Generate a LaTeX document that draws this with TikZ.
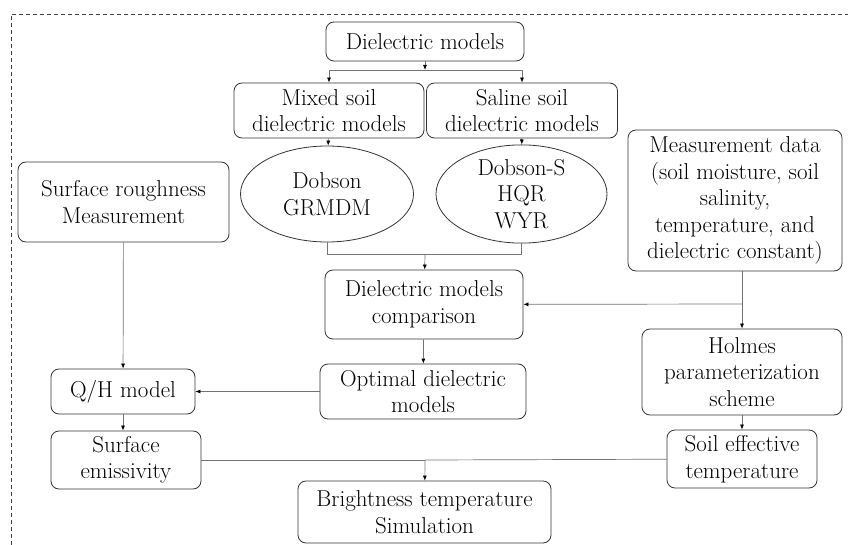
\documentclass[tikz,border=0pt]{standalone}
\usetikzlibrary{arrows.meta,shapes.geometric}
\begin{document}
\begin{tikzpicture}[x=1pt,y=-1pt,
  box/.style={draw=black!80,line width=0.8pt,rounded corners=8pt,align=center,inner sep=0pt,
    font=\fontsize{23}{26.5}\selectfont},
  ell/.style={ellipse,draw=black!80,line width=0.8pt,align=center,inner sep=0pt,
    font=\fontsize{23}{26.5}\selectfont},
  conn/.style={draw=black!55,line width=0.7pt},
  arr/.style={conn,-{Latex[length=5pt,width=4pt,color=black]}}]
\useasboundingbox (0,0) rectangle (848,545);
\draw[black!75,line width=0.7pt,dash pattern=on 4pt off 3pt] (11,545) -- (11,14) -- (848,14);

\node[box,minimum width=198,minimum height=39] (dm) at (425,41.5) {Dielectric models};
\node[box,minimum width=190,minimum height=55] (mixed) at (329,110.5) {Mixed soil\\dielectric models};
\node[box,minimum width=191,minimum height=55] (saline) at (522,110.5) {Saline soil\\dielectric models};
\node[ell,minimum width=173,minimum height=96] (e1) at (327,194) {Dobson\\GRMDM};
\node[ell,minimum width=171,minimum height=95] (e2) at (521.5,194) {Dobson-S\\HQR\\WYR};
\node[box,minimum width=211,minimum height=80] (rough) at (123.5,202) {Surface roughness\\Measurement};
\node[box,minimum width=214,minimum height=141] (meas) at (735,200.5) {Measurement data\\(soil moisture, soil\\salinity,\\temperature, and\\dielectric constant)};
\node[box,minimum width=198,minimum height=69] (comp) at (424,304.5) {Dielectric models\\comparison};
\node[box,minimum width=200,minimum height=86] (holmes) at (742,372) {Holmes\\parameterization\\scheme};
\node[box,minimum width=206,minimum height=55] (opt) at (423,391.5) {Optimal dielectric\\models};
\node[box,minimum width=144,minimum height=45] (qh) at (123,391.5) {Q/H model};
\node[box,minimum width=150,minimum height=58] (emis) at (126,460) {Surface\\emissivity};
\node[box,minimum width=150,minimum height=58] (soil) at (742,459) {Soil effective\\temperature};
\node[box,minimum width=253,minimum height=62] (bright) at (424.5,512) {Brightness temperature\\Simulation};

\coordinate (j1) at (425,70);
\coordinate (j2) at (425,254);
\coordinate (j3) at (742,304);
\coordinate (j4) at (425,460);

\draw[arr] (dm) -- (j1);
\draw[arr] (j1) -| (mixed);
\draw[arr] (j1) -| (saline);
\draw[arr] (mixed) -- (e1);
\draw[arr] (saline) -- (e2);
\draw[conn] (e1) |- (j2);
\draw[conn] (e2) |- (j2);
\draw[arr] (j2) -- (comp);
\draw[arr] (comp) -- (opt);
\draw[arr] (opt) -- (qh);
\draw[arr] (rough) -- (qh);
\draw[arr] (qh) -- (qh |- emis.north);
\draw[conn] (holmes.north |- meas.south) -- (j3);
\draw[arr] (j3) -- (holmes);
\draw[arr] (j3) -- (comp);
\draw[arr] (holmes) -- (soil);
\draw[conn] (emis) -- (j4);
\draw[conn] (soil) -- (j4);
\draw[arr] (j4) -- (bright);
\end{tikzpicture}
\end{document}
